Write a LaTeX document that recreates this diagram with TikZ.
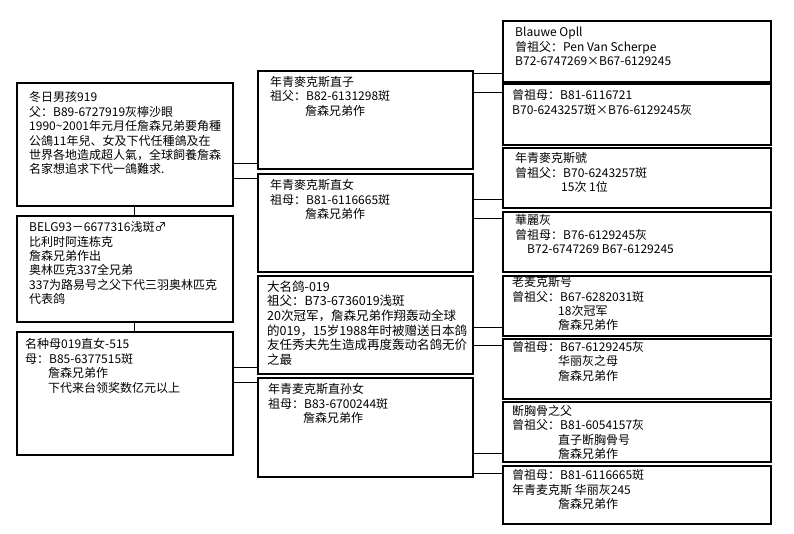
\documentclass[tikz,border=0pt]{standalone}
\usepackage{fontspec}
\newfontfamily\cjk{Noto Sans CJK SC}
\usetikzlibrary{positioning}

\begin{document}
\begin{tikzpicture}[x=1pt, y=-1pt,
  card/.style={draw, line width=1.2pt, anchor=north west, inner sep=0pt, outer sep=0pt},
  cardtext/.style={anchor=north west, align=left, inner sep=0pt, font=\cjk\fontsize{12}{14.4}\selectfont},
  link/.style={line width=0.8pt}]
\useasboundingbox (0,0) rectangle (794,534);
% Boxes
\node[card, minimum width=216pt, minimum height=123pt] (L1) at (17,83) {};
\node[card, minimum width=216pt, minimum height=106pt] (L2) at (17,216) {};
\node[card, minimum width=216pt, minimum height=123pt] (L3) at (17,332) {};

\node[card, minimum width=215pt, minimum height=98pt] (M1) at (258,71) {};
\node[card, minimum width=215pt, minimum height=98pt] (M2) at (258,174) {};
\node[card, minimum width=215pt, minimum height=98pt] (M3) at (258,276) {};
\node[card, minimum width=215pt, minimum height=99pt] (M4) at (258,378) {};

\node[card, minimum width=268pt, minimum height=61pt] (R1) at (503,21) {};
\node[card, minimum width=268pt, minimum height=61pt] (R2) at (503,84) {};
\node[card, minimum width=268pt, minimum height=60pt] (R3) at (503,148) {};
\node[card, minimum width=268pt, minimum height=60pt] (R4) at (503,212) {};
\node[card, minimum width=268pt, minimum height=60pt] (R5) at (503,276) {};
\node[card, minimum width=268pt, minimum height=60pt] (R6) at (503,339) {};
\node[card, minimum width=268pt, minimum height=60pt] (R7) at (503,402) {};
\node[card, minimum width=268pt, minimum height=58pt] (R8) at (503,466) {};

% Lines
\draw[link] ([xshift=9pt]L1.south) -- ([xshift=9pt]L2.north);
\draw[link] ([xshift=9pt]L2.south) -- ([xshift=9pt]L3.north);
\draw[link] ([yshift=6pt]M1.south west) -- ([yshift=6pt]M1.south west -| L1.east);
\draw[link] ([yshift=-4pt]M2.north west) -- ([yshift=-4pt]M2.north west -| L1.east);
\draw[link] ([yshift=7pt]M3.south west) -- ([yshift=7pt]M3.south west -| L3.east);
\draw[link] ([yshift=-4pt]M4.north west) -- ([yshift=-4pt]M4.north west -| L3.east);
\draw[link] ([yshift=9pt]R1.south west) -- ([yshift=9pt]R1.south west -| M1.east);
\draw[link] ([yshift=-8pt]R2.north west) -- ([yshift=-8pt]R2.north west -| M1.east);
\draw[link] ([yshift=9pt]R3.south west) -- ([yshift=9pt]R3.south west -| M2.east);
\draw[link] ([yshift=-6pt]R4.north west) -- ([yshift=-6pt]R4.north west -| M2.east);
\draw[link] ([yshift=9pt]R5.south west) -- ([yshift=9pt]R5.south west -| M3.east);
\draw[link] ([yshift=-6pt]R6.north west) -- ([yshift=-6pt]R6.north west -| M3.east);
\draw[link] ([yshift=9pt]R7.south west) -- ([yshift=9pt]R7.south west -| M4.east);
\draw[link] ([yshift=-7pt]R8.north west) -- ([yshift=-7pt]R8.north west -| M4.east);

% Text
\node[cardtext] (L1t) at ([xshift=12pt, yshift=-8.5pt]L1.north west) {冬日男孩919\\
父：B89-6727919灰檸沙眼\\
1990\textasciitilde2001年元月任詹森兄弟要角種\\
公鴿11年兒、女及下代任種鴿及在\\
世界各地造成超人氣，全球飼養詹森\\
名家想追求下代一鴿難求.};
\node[cardtext] (L2t) at ([xshift=12pt, yshift=-5.5pt]L2.north west) {BELG93－6677316浅斑♂\\
比利时阿连栋克\\
詹森兄弟作出\\
奥林匹克337全兄弟\\
337为路易号之父下代三羽奥林匹克\\
代表鸽};
\node[cardtext] (L3t) at ([xshift=8pt, yshift=-6.5pt]L3.north west) {名种母019直女-515\\
母：B85-6377515斑\\
\hspace*{23pt}詹森兄弟作\\
\hspace*{23pt}下代来台领奖数亿元以上};

\node[cardtext] (M1t) at ([xshift=12pt, yshift=-5pt]M1.north west) {年青麥克斯直子\\
祖父：B82-6131298斑\\
\hspace*{35pt}詹森兄弟作};
\node[cardtext] (M2t) at ([xshift=12pt, yshift=-5.5pt]M2.north west) {年青麥克斯直女\\
祖母：B81-6116665斑\\
\hspace*{35pt}詹森兄弟作};
\node[cardtext, font=\cjk\fontsize{12.5}{14.6}\selectfont] (M3t) at ([xshift=9pt, yshift=-4.5pt]M3.north west) {大名鸽-019\\
祖父：B73-6736019浅斑\\
20次冠军，詹森兄弟作翔轰动全球\\
的019，15岁1988年时被赠送日本鸽\\
友任秀夫先生造成再度轰动名鸽无价\\
之最};
\node[cardtext] (M4t) at ([xshift=10pt, yshift=-5.5pt]M4.north west) {年青麦克斯直孙女\\
祖母：B83-6700244斑\\
\hspace*{35pt}詹森兄弟作};

\node[cardtext] (R1t) at ([xshift=12pt, yshift=-6pt]R1.north west) {Blauwe Opll\\
曾祖父：Pen Van Scherpe\\
B72-6747269×B67-6129245};
\node[cardtext] (R2t) at ([xshift=9pt, yshift=-5.5pt]R2.north west) {曾祖母：B81-6116721\\
B70-6243257斑×B76-6129245灰};
\node[cardtext] (R3t) at ([xshift=12pt, yshift=-4.5pt]R3.north west) {年青麥克斯號\\
曾祖父：B70-6243257斑\\
\hspace*{46pt}15次 1位};
\node[cardtext] (R4t) at ([xshift=12pt, yshift=-2.5pt]R4.north west) {華麗灰\\
曾祖母：B76-6129245灰\\
\hspace*{12pt}B72-6747269 B67-6129245};
\node[cardtext] (R5t) at ([xshift=9pt, yshift=-0.5pt]R5.north west) {老麦克斯号\\
曾祖父：B67-6282031斑\\
\hspace*{46pt}18次冠军\\
\hspace*{46pt}詹森兄弟作};
\node[cardtext] (R6t) at ([xshift=9pt, yshift=-2pt]R6.north west) {曾祖母：B67-6129245灰\\
\hspace*{46pt}华丽灰之母\\
\hspace*{46pt}詹森兄弟作};
\node[cardtext] (R7t) at ([xshift=9pt, yshift=-3pt]R7.north west) {断胸骨之父\\
曾祖父：B81-6054157灰\\
\hspace*{46pt}直子断胸骨号\\
\hspace*{46pt}詹森兄弟作};
\node[cardtext] (R8t) at ([xshift=9pt, yshift=-3.5pt]R8.north west) {曾祖母：B81-6116665斑\\
年青麦克斯 华丽灰245\\
\hspace*{46pt}詹森兄弟作};

\end{tikzpicture}
\end{document}
